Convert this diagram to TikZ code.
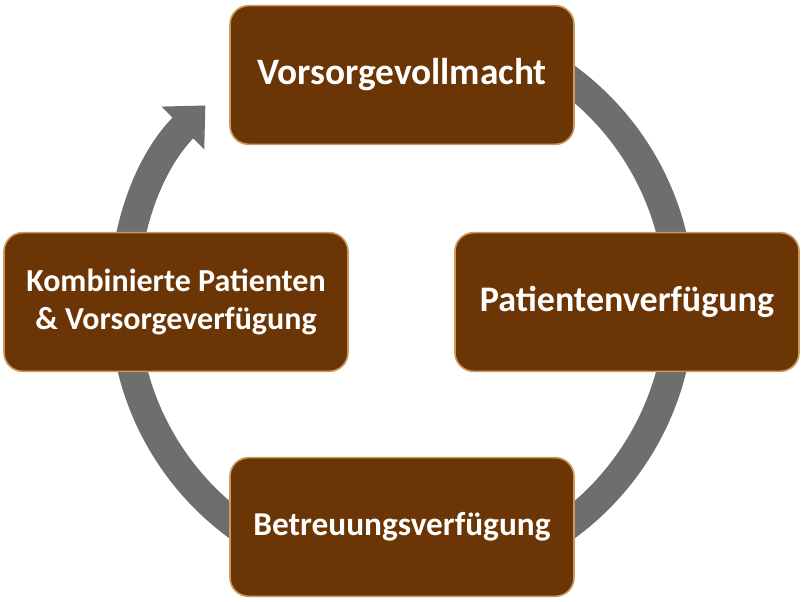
\documentclass[tikz,border=0pt]{standalone}
\usepackage{fontspec}
\setmainfont{Carlito}
\usetikzlibrary{arrows.meta,calc}
\definecolor{boxbrown}{HTML}{6B3505}
\definecolor{boxedge}{HTML}{C99A5A}
\definecolor{ringgray}{HTML}{6E6E6E}
\begin{document}
\begin{tikzpicture}[x=0.75pt, y=0.75pt,
    stepbox/.style={rectangle, rounded corners=14pt, fill=boxbrown, draw=boxedge,
        line width=1.2pt, minimum width=258pt, minimum height=104pt,
        text=white, font=\bfseries, align=center}]
		% Frame
		\useasboundingbox (0,0) rectangle (804,602);

		% Ring with arrow
		\coordinate (centre) at (402,300);
		\draw[ringgray, line width=22pt, -{Triangle[width=44pt, length=24pt]}]
		    ($(centre)+(100:278)$) arc[start angle=100, end angle=-225, radius=278];

		% Boxes
		\node[stepbox, font=\bfseries\fontsize{28}{32}\selectfont] (vollmacht) at (402,527) {Vorsorgevollmacht};
		\node[stepbox, font=\bfseries\fontsize{27}{31}\selectfont] (patient) at (627,300) {Patientenverfügung};
		\node[stepbox, font=\bfseries\fontsize{25}{29}\selectfont] (betreuung) at (402,75) {Betreuungsverfügung};
		\node[stepbox, font=\bfseries\fontsize{24}{29}\selectfont] (kombi) at (176,300) {Kombinierte Patienten\\\& Vorsorgeverfügung};
	\end{tikzpicture}
\end{document}
